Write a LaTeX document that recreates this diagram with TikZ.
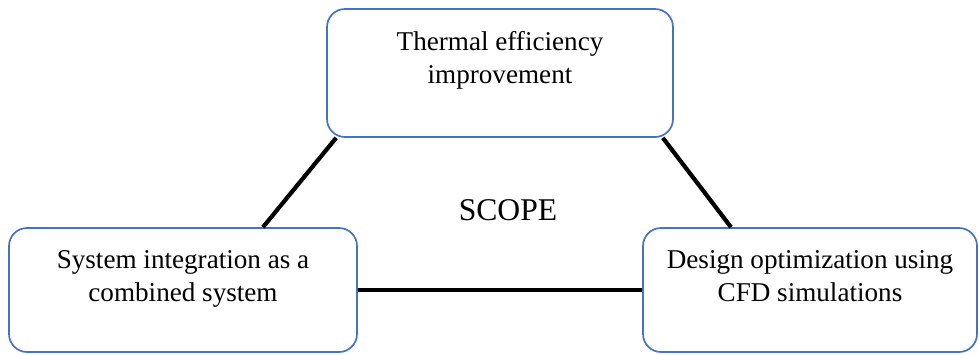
\documentclass[tikz,border=0pt]{standalone}
\usepackage{fontspec}
\setmainfont{Liberation Serif}
\usetikzlibrary{calc}
\definecolor{boxblue}{RGB}{68,114,196}

\begin{document}
\begin{tikzpicture}[
  scopebox/.style={draw=boxblue, line width=1.2pt, rounded corners=0.45cm, inner sep=0pt,
    text height=1.0cm, text depth=2.1cm, font=\fontsize{19.3}{23.5}\selectfont},
  link/.style={line width=3pt}]
% Fix the page size
\useasboundingbox (0,0) rectangle (24.475,-8.85);

% Draw the three boxes
\node[scopebox, minimum width=8.65cm, text height=1.025cm, text depth=2.175cm] (thermal) at (12.5,-1.825)
  {\parbox[t]{8cm}{\centering Thermal efficiency\\improvement}};
\node[scopebox, minimum width=8.7cm] (integr) at (4.575,-7.25)
  {\parbox[t]{8cm}{\centering System integration as a\\combined system}};
\node[scopebox, minimum width=8.35cm] (design) at (20.25,-7.25)
  {\parbox[t]{8cm}{\centering Design optimization using\\CFD simulations}};

% Title in the middle
\node[font=\fontsize{22.5}{27}\selectfont] (scope) at (12.7,-5.25) {SCOPE};

% Join the boxes
\draw[link] ($(thermal.south west)+(0.25,0)$) -- ($(integr.north)+(2.0,0)$);
\draw[link] ($(thermal.south east)+(-0.275,0)$) -- ($(design.north)+(-1.975,0)$);
\draw[link] (integr.east) -- (design.west);
\end{tikzpicture}
\end{document}
